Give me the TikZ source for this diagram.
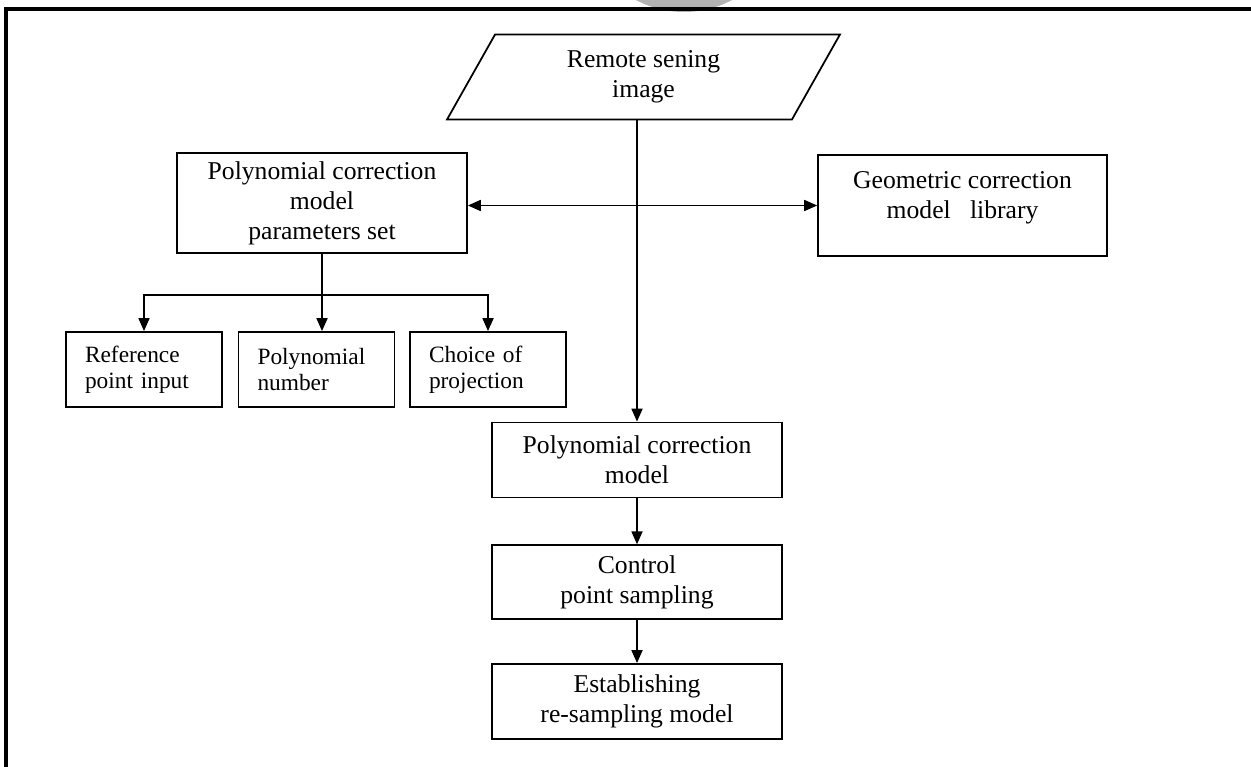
\documentclass[tikz,border=0pt]{standalone}
\usepackage{fontspec}
\setmainfont{Liberation Serif}
\usepackage{tikz}
\usetikzlibrary{arrows.meta,positioning,shapes.geometric}
\tikzset{
	box/.style={draw, line width=1pt, align=center, inner sep=0pt,
		minimum width=5.8cm, font=\fontsize{14.6}{17}\selectfont},
	smallbox/.style={draw, line width=1pt, align=left, inner xsep=0.38cm,
		inner ysep=0pt, text width=2.36cm, minimum height=1.5cm,
		font=\fontsize{13.3}{14.8}\selectfont},
	arrow/.style={-{Triangle[length=0.26cm,width=0.22cm]}, line width=1pt},
	dblarrow/.style={{Triangle[length=0.26cm,width=0.22cm]}-{Triangle[length=0.26cm,width=0.22cm]}, line width=1pt}
}

\begin{document}
\begin{tikzpicture}[x=0.02cm, y=-0.02cm,
	inbox/.style={draw, line width=1pt, trapezium, trapezium left angle=47.5,
		trapezium right angle=132.5, trapezium stretches body,
		minimum width=7.86cm, minimum height=1.7cm, inner sep=0pt,
		align=center, font=\fontsize{14.6}{17}\selectfont},
	]
	\useasboundingbox (0,0) rectangle (1251,767);
	
	%% -- Page frame and grey tab
	\fill[black!30] (684,-90) circle (102);
	\draw[line width=2.3pt] (6,767) -- (6,9) -- (1251,9);
	
	%% -- Input image (top)
	\node[inbox] (rs) at (643.5,77) {Remote sening\\image};
	
	%% -- Parameter set and model library
	\node[box, minimum height=2cm] (ps) at (322,203)
	{Polynomial correction\\model\\parameters set};
	\node[draw, line width=1pt, minimum width=5.78cm, minimum height=2.02cm]
	(geobox) at (962.5,205.5) {};
	\node[box, draw=none, minimum width=0pt, minimum height=0pt] (geo) at (962.5,198)
	{Geometric correction\\model~~~library};
	
	%% -- Parameter choices
	\node[smallbox] (ref) at (144,369.5) {Reference\\point input};
	\node[smallbox] (num) at (316.5,369.5) {Polynomial\\number};
	\node[smallbox] (proj) at (488,369.5) {Choice of\\projection};
	
	%% -- Main chain
	\node[box, minimum height=1.5cm] (pcm) at (637,460)
	{Polynomial correction\\model};
	\node[box, minimum height=1.48cm, below=0.92cm of pcm] (ctrl)
	{Control\\point sampling};
	\node[box, minimum height=1.5cm, below=0.86cm of ctrl] (est)
	{Establishing\\re-sampling model};
	
	%% -- Connectors
	\draw[arrow] (rs.south -| pcm.north) -- (pcm.north);
	\draw[dblarrow] (ps.east |- geobox.west) -- (geobox.west);
	\draw[line width=1pt] (ps.south) -- ++(0,41) coordinate (bus);
	\draw[arrow] (bus) -| (ref.north);
	\draw[arrow] (bus) -| (proj.north);
	\draw[arrow] (bus) -- (bus |- num.north);
	\draw[arrow] (pcm) -- (ctrl);
	\draw[arrow] (ctrl) -- (est);
	
\end{tikzpicture}
\end{document}
